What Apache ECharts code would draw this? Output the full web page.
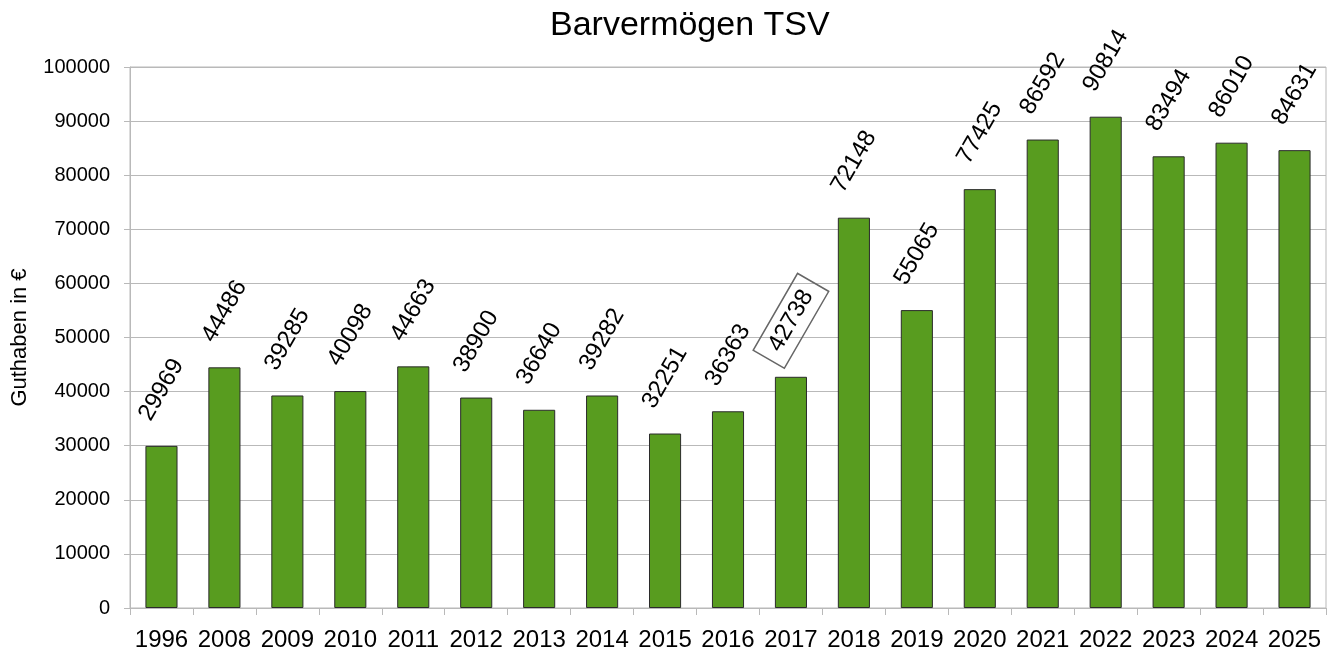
<!DOCTYPE html>
<html style="height: 100%">
<head>
    <meta charset="utf-8">
    <script src="https://cdn.jsdelivr.net/npm/echarts@6/dist/echarts.min.js"></script>
</head>
<body style="height: 100%; margin: 0">
<div id="container" style="width: 1337px; height: 653px"></div>
<script type="text/javascript">
    var years = ['1996', '2008', '2009', '2010', '2011', '2012', '2013', '2014', '2015', '2016',
        '2017', '2018', '2019', '2020', '2021', '2022', '2023', '2024', '2025'];
    var guthaben = [29969, 44486, 39285, 40098, 44663, 38900, 36640, 39282, 32251, 36363,
        42738, 72148, 55065, 77425, 86592, 90814, 83494, 86010, 84631];
    var boxedYear = '2017';

    var dom = document.getElementById("container");
    var myChart = echarts.init(dom);

    // the 2017 value has a frame round its label
    var barData = guthaben.map(function (v, i) {
        if (years[i] !== boxedYear) return v;
        return {
            value: v,
            label: {
                borderColor: '#666',
                borderWidth: 1.5,
                padding: [7, 11, 5, 11]
            }
        };
    });

    var option = {
        textStyle: { fontFamily: 'Liberation Sans, Arial, sans-serif' },
        title: {
            text: 'Barvermögen TSV',
            left: 545,
            top: 4,
            textStyle: { fontSize: 34, fontWeight: 'normal', color: '#000' }
        },
        grid: {
            left: 130,
            right: 11,
            top: 67,
            bottom: 45,
            outerBoundsMode: 'none',
            containLabel: false,
            show: true,
            borderColor: '#b9b9b9',
            borderWidth: 1
        },
        xAxis: {
            type: 'category',
            data: years,
            axisLine: { lineStyle: { color: '#b9b9b9' } },
            axisTick: { show: true, length: 7, lineStyle: { color: '#b9b9b9' } },
            axisLabel: { interval: 0, fontSize: 24, color: '#000', margin: 20 }
        },
        yAxis: {
            type: 'value',
            name: 'Guthaben in €',
            nameLocation: 'middle',
            nameGap: 99,
            nameTextStyle: { fontSize: 22, color: '#000' },
            min: 0,
            max: 100000,
            interval: 10000,
            axisLine: { show: true, lineStyle: { color: '#b9b9b9' } },
            axisTick: { show: true, length: 6, lineStyle: { color: '#b9b9b9' } },
            axisLabel: {
                fontSize: 20,
                color: '#000',
                margin: 20,
                formatter: function (v) { return String(v); }
            },
            splitLine: { lineStyle: { color: '#b9b9b9' } }
        },
        series: [
            {
                name: 'Guthaben',
                type: 'bar',
                data: barData,
                barWidth: '51%',
                itemStyle: { color: '#589c1f', borderColor: '#2b2b2b', borderWidth: 1 },
                label: {
                    show: true,
                    position: 'top',
                    rotate: 60,
                    align: 'center',
                    verticalAlign: 'middle',
                    distance: 56,
                    fontSize: 24,
                    color: '#000'
                }
            }
        ]
    };

    myChart.setOption(option, true);
</script>
</body>
</html>
